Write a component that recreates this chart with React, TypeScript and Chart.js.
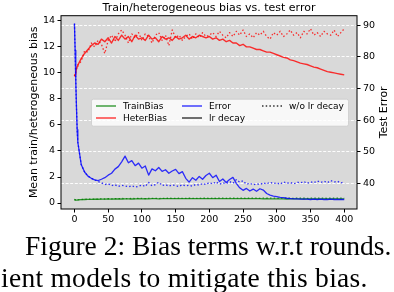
import React, { useEffect, useRef } from "react";
import { Chart, registerables } from "chart.js";

Chart.register(...registerables);

// ---------- data ----------
const rounds = [
  0, 1, 2, 3, 4, 5,
  10, 15, 20, 25, 30, 35, 40, 45,
  50, 55, 60, 65, 70, 75, 80, 85,
  90, 95, 100, 105, 110, 115, 120, 125,
  130, 135, 140, 145, 150, 155, 160, 165,
  170, 175, 180, 185, 190, 195, 200, 205,
  210, 215, 220, 225, 230, 235, 240, 245,
  250, 255, 260, 265, 270, 275, 280, 285,
  290, 295, 300, 305, 310, 315, 320, 325,
  330, 335, 340, 345, 350, 355, 360, 365,
  370, 375, 380, 385, 390, 395, 400,
];

const errorDecay = [
  90.5, 82, 72, 64, 57, 53,
  46, 43.6, 42.3, 41.6, 41.1, 40.9, 41.3, 41.8,
  42.6, 43.2, 44.5, 45.3, 46.8, 48.6, 46.5, 47.2,
  45.6, 46.4, 44.8, 45.5, 42.6, 44.6, 44.0, 45.0,
  43.8, 44.3, 43.2, 43.9, 44.4, 43.1, 43.7, 41.6,
  40.4, 41.8, 41.0, 42.2, 41.3, 42.5, 43.2, 41.8,
  42.6, 40.6, 41.4, 40.3, 41.2, 41.9, 40.0, 38.6,
  37.8, 38.4, 37.6, 38.2, 37.5, 38.3, 37.9, 36.8,
  36.3, 36.0, 35.8, 35.6, 35.5, 35.3, 35.2, 35.1,
  35.1, 35.0, 35.0, 35.0, 34.9, 35.0, 34.9, 35.0,
  34.9, 34.9, 35.0, 34.9, 34.9, 34.9, 34.9,
];

const errorNoDecay = [
  90.5, 82, 72, 64, 57, 53,
  46, 43.6, 42.3, 41.6, 41.1, 40.6, 40.2, 39.6,
  39.9, 39.3, 39.6, 39.0, 39.4, 39.2, 38.9, 39.3,
  38.8, 39.1, 39.5, 39.0, 40.3, 39.2, 39.6, 40.4,
  39.3, 39.6, 39.1, 39.5, 39.3, 39.0, 39.6, 39.2,
  39.4, 39.1, 39.7, 39.4, 40.0, 39.6, 40.3, 39.8,
  40.5, 39.7, 40.2, 39.9, 40.6, 40.0, 41.2, 40.4,
  40.8, 39.7, 40.1, 39.5, 39.9, 39.6, 40.2, 39.8,
  40.4, 39.9, 40.2, 39.7, 40.5, 40.0, 40.3, 39.8,
  40.4, 40.1, 40.6, 40.0, 40.5, 40.2, 40.8, 40.3,
  40.7, 40.2, 40.9, 40.4, 40.7, 40.1, 40.5,
];

const heterDecay = [
  9.75, 9.9, 10.1, 10.3, 10.5, 10.6,
  11.1, 11.5, 11.8, 12.1, 12.3, 12.2, 12.6, 12.4,
  12.7, 12.3, 12.8, 12.5, 12.9, 12.6, 12.8, 12.4,
  12.9, 12.6, 12.7, 12.5, 12.9, 12.6, 12.7, 12.4,
  12.8, 12.6, 12.7, 12.5, 12.8, 12.6, 12.7, 12.9,
  12.6, 12.8, 12.7, 12.9, 12.8, 12.7, 12.8, 12.6,
  12.7, 12.5, 12.6, 12.4, 12.5, 12.3, 12.3, 12.1,
  12.2, 12.0, 12.0, 11.9, 11.8, 11.8, 11.7, 11.6,
  11.6, 11.5, 11.4, 11.3, 11.2, 11.15, 11.0, 10.95,
  10.85, 10.75, 10.7, 10.65, 10.55, 10.45, 10.4, 10.3,
  10.2, 10.1, 10.05, 10.0, 9.95, 9.9, 9.85,
];

const heterNoDecay = [
  9.75, 9.9, 10.1, 10.3, 10.5, 10.6,
  10.9, 11.7, 11.6, 12.3, 12.0, 12.5, 12.2, 11.5,
  12.5, 12.9, 12.4, 13.0, 13.3, 12.9, 12.3, 13.0,
  12.7, 13.1, 12.5, 13.0, 12.8, 12.3, 12.9, 13.1,
  12.5, 12.9, 12.1, 13.3, 12.7, 12.9, 12.5, 12.8,
  13.0, 12.6, 13.0, 12.7, 13.1, 12.8, 12.9, 13.1,
  12.8, 13.2, 12.9, 12.7, 13.1, 12.8, 13.2, 12.9,
  13.3, 12.8, 13.0, 12.7, 13.1, 12.9, 13.2, 12.8,
  12.6, 13.1, 12.9, 13.2, 12.8, 13.0, 13.3, 12.9,
  13.1, 12.7, 13.2, 13.0, 13.4, 12.9, 13.1, 12.8,
  13.2, 13.0, 12.9, 13.3, 12.8, 13.1, 13.4,
];

const trainDecay = [
  0.28, 0.24, 0.22, 0.22, 0.23, 0.24,
  0.26, 0.27, 0.28, 0.28, 0.29, 0.29, 0.30, 0.30,
  0.31, 0.30, 0.31, 0.32, 0.31, 0.32, 0.32, 0.31,
  0.32, 0.33, 0.32, 0.33, 0.32, 0.33, 0.33, 0.32,
  0.33, 0.33, 0.34, 0.33, 0.33, 0.34, 0.33, 0.34,
  0.34, 0.33, 0.34, 0.34, 0.34, 0.33, 0.34, 0.34,
  0.34, 0.34, 0.33, 0.34, 0.34, 0.34, 0.33, 0.34,
  0.33, 0.34, 0.33, 0.33, 0.33, 0.33, 0.32, 0.33,
  0.32, 0.32, 0.32, 0.32, 0.32, 0.31, 0.32, 0.32,
  0.32, 0.32, 0.31, 0.32, 0.32, 0.32, 0.31, 0.32,
  0.32, 0.32, 0.31, 0.32, 0.32, 0.31, 0.32,
];

const trainNoDecay = [
  0.28, 0.24, 0.22, 0.22, 0.23, 0.24,
  0.27, 0.28, 0.30, 0.29, 0.31, 0.30, 0.32, 0.31,
  0.33, 0.32, 0.34, 0.33, 0.35, 0.34, 0.33, 0.35,
  0.34, 0.36, 0.35, 0.34, 0.36, 0.35, 0.36, 0.34,
  0.36, 0.35, 0.37, 0.36, 0.35, 0.37, 0.36, 0.35,
  0.37, 0.36, 0.35, 0.37, 0.36, 0.38, 0.36, 0.37,
  0.36, 0.38, 0.37, 0.36, 0.38, 0.37, 0.36, 0.38,
  0.37, 0.36, 0.38, 0.37, 0.38, 0.36, 0.37, 0.38,
  0.37, 0.38, 0.36, 0.38, 0.37, 0.38, 0.37, 0.36,
  0.38, 0.37, 0.38, 0.36, 0.37, 0.38, 0.37, 0.38,
  0.37, 0.36, 0.38, 0.37, 0.38, 0.37, 0.38,
];

const xTicks = [0, 50, 100, 150, 200, 250, 300, 350, 400];
const leftTicks = [0, 2, 4, 6, 8, 10, 12, 14];
const rightTicks = [40, 50, 60, 70, 80, 90];

const titleText = "Train/heterogeneous bias vs. test error";
const leftAxisTitle = "Mean train/heterogeneous bias";
const rightAxisTitle = "Test Error";
const legendLabels = ["TrainBias", "HeterBias", "Error", "lr decay", "w/o lr decay"];
const captionLine1 = "Figure 2: Bias terms w.r.t rounds.";
const captionLine2 = "ient models to mitigate this bias.";

// ---------- styles ----------
const GREEN = "rgba(0,128,0,0.8)";
const RED = "rgba(255,0,0,0.8)";
const BLUE = "rgba(0,0,255,0.8)";
const BLACK = "rgba(0,0,0,0.8)";
const DOT = [1.5, 2.2];
const FONT = "'DejaVu Sans', sans-serif";

const pts = (vals: number[]) => rounds.map((r, i) => ({ x: r, y: vals[i] }));

export default function App() {
  const ref = useRef<HTMLCanvasElement>(null);

  useEffect(() => {
    const canvas = ref.current;
    if (!canvas) return;

    const bgPlugin = {
      id: "plotBg",
      beforeDraw(chart: any) {
        const { ctx, chartArea: a } = chart;
        ctx.save();
        ctx.fillStyle = "#d9d9d9";
        ctx.fillRect(a.left, a.top, a.right - a.left, a.bottom - a.top);
        ctx.restore();
      },
    };

    const legendPlugin = {
      id: "boxLegend",
      afterDatasetsDraw(chart: any) {
        const { ctx, chartArea: a } = chart;
        const bx = a.left + 30.5;
        const by = a.top + 83.5;
        const bw = 257;
        const bh = 27;
        ctx.save();
        ctx.beginPath();
        if ((ctx as any).roundRect) (ctx as any).roundRect(bx, by, bw, bh, 2);
        else ctx.rect(bx, by, bw, bh);
        ctx.fillStyle = "rgba(255,255,255,0.8)";
        ctx.fill();
        ctx.strokeStyle = "rgba(204,204,204,0.8)";
        ctx.lineWidth = 1;
        ctx.stroke();

        const entries = [
          { label: legendLabels[0], color: GREEN, dash: [] as number[], hx: 96, hy: 106 },
          { label: legendLabels[1], color: RED, dash: [] as number[], hx: 96, hy: 118 },
          { label: legendLabels[2], color: BLUE, dash: [] as number[], hx: 182, hy: 106 },
          { label: legendLabels[3], color: BLACK, dash: [] as number[], hx: 182, hy: 118 },
          { label: legendLabels[4], color: BLACK, dash: DOT, hx: 262, hy: 106 },
        ];
        ctx.font = `9px ${FONT}`;
        ctx.textBaseline = "middle";
        ctx.textAlign = "left";
        for (const e of entries) {
          ctx.beginPath();
          ctx.setLineDash(e.dash);
          ctx.strokeStyle = e.color;
          ctx.lineWidth = 1.4;
          ctx.moveTo(e.hx, e.hy);
          ctx.lineTo(e.hx + 20, e.hy);
          ctx.stroke();
          ctx.setLineDash([]);
          ctx.fillStyle = "#000";
          ctx.fillText(e.label, e.hx + 27, e.hy + 0.5);
        }
        ctx.restore();
      },
    };

    const framePlugin = {
      id: "frameAndTitles",
      afterDraw(chart: any) {
        const { ctx, chartArea: a } = chart;
        ctx.save();
        ctx.strokeStyle = "#000";
        ctx.lineWidth = 1;
        ctx.strokeRect(a.left, a.top, a.right - a.left, a.bottom - a.top);

        ctx.fillStyle = "#000";
        ctx.font = `11px ${FONT}`;
        ctx.textAlign = "center";
        ctx.textBaseline = "alphabetic";
        ctx.fillText(titleText, (a.left + a.right) / 2, 10.5);

        const cy = (a.top + a.bottom) / 2;
        ctx.save();
        ctx.translate(36.5, cy);
        ctx.rotate(-Math.PI / 2);
        ctx.fillText(leftAxisTitle, 0, 0);
        ctx.restore();

        ctx.save();
        ctx.translate(386.5, cy);
        ctx.rotate(-Math.PI / 2);
        ctx.fillText(rightAxisTitle, 0, 0);
        ctx.restore();
        ctx.restore();
      },
    };

    const tickFont = { family: FONT, size: 9.5 };

    const chart = new Chart(canvas, {
      type: "line",
      data: {
        datasets: [
          { label: "Error lr decay", data: pts(errorDecay), yAxisID: "yR", borderColor: BLUE, borderWidth: 1.3, pointRadius: 0, order: 0 },
          { label: "Error w/o", data: pts(errorNoDecay), yAxisID: "yR", borderColor: BLUE, borderWidth: 1.3, borderDash: DOT, pointRadius: 0, order: 1 },
          { label: "TrainBias lr decay", data: pts(trainDecay), yAxisID: "yL", borderColor: GREEN, borderWidth: 1.3, pointRadius: 0, order: 2 },
          { label: "TrainBias w/o", data: pts(trainNoDecay), yAxisID: "yL", borderColor: GREEN, borderWidth: 1.3, borderDash: DOT, pointRadius: 0, order: 3 },
          { label: "HeterBias lr decay", data: pts(heterDecay), yAxisID: "yL", borderColor: RED, borderWidth: 1.4, pointRadius: 0, order: 4 },
          { label: "HeterBias w/o", data: pts(heterNoDecay), yAxisID: "yL", borderColor: RED, borderWidth: 1.3, borderDash: DOT, pointRadius: 0, order: 5 },
        ] as any,
      },
      options: {
        animation: false,
        responsive: false,
        maintainAspectRatio: false,
        devicePixelRatio: 1,
        layout: { padding: { top: 15.7, left: 0, right: 0, bottom: 0 } },
        plugins: {
          legend: { display: false },
          title: { display: false },
          tooltip: { enabled: false },
        },
        elements: { line: { tension: 0, borderJoinStyle: "round" } },
        scales: {
          x: {
            type: "linear",
            min: -19.95,
            max: 418.95,
            afterBuildTicks: (s: any) => { s.ticks = xTicks.map((v) => ({ value: v })); },
            afterFit: (s: any) => { s.height = 83; },
            ticks: { font: tickFont, color: "#000", padding: 1, maxRotation: 0, autoSkip: false, callback: (v: any) => String(v) },
            grid: { drawOnChartArea: false, drawTicks: true, tickLength: 3.5, tickColor: "#000", tickWidth: 1 },
            border: { display: false },
          },
          yL: {
            type: "linear",
            position: "left",
            min: -0.46,
            max: 14.4,
            afterBuildTicks: (s: any) => { s.ticks = leftTicks.map((v) => ({ value: v })); },
            afterFit: (s: any) => { s.width = 61; },
            ticks: { font: tickFont, color: "#000", padding: 2.5, autoSkip: false, callback: (v: any) => String(v) },
            grid: { drawOnChartArea: false, drawTicks: true, tickLength: 3.5, tickColor: "#000", tickWidth: 1 },
            border: { display: false },
          },
          yR: {
            type: "linear",
            position: "right",
            min: 31.9,
            max: 93.0,
            afterBuildTicks: (s: any) => { s.ticks = rightTicks.map((v) => ({ value: v })); },
            afterFit: (s: any) => { s.width = 37; },
            ticks: { font: tickFont, color: "#000", padding: 2.5, autoSkip: false, callback: (v: any) => String(v) },
            grid: { drawOnChartArea: true, color: "rgba(255,255,255,0.95)", lineWidth: 1, drawTicks: true, tickLength: 3.5, tickColor: "#000", tickWidth: 1, tickBorderDash: [] },
            border: { display: false, dash: [3, 1.6] },
          },
        },
      } as any,
      plugins: [bgPlugin, legendPlugin, framePlugin],
    });

    return () => chart.destroy();
  }, []);

  const capStyle: React.CSSProperties = {
    position: "absolute",
    fontFamily: "'Liberation Serif', 'Times New Roman', serif",
    fontSize: 27.5,
    lineHeight: "27px",
    color: "#000",
    whiteSpace: "nowrap",
    margin: 0,
  };

  return (
    <div style={{ position: "absolute", left: 0, top: 0, width: 394, height: 292, overflow: "hidden", background: "#fff" }}>
      <canvas ref={ref} width={394} height={292} style={{ position: "absolute", left: 0, top: 0, width: 394, height: 292 }} />
      <div style={{ ...capStyle, left: 25, top: 232 }}>{captionLine1}</div>
      <div style={{ ...capStyle, left: 1, top: 263.5, letterSpacing: "0.27px" }}>{captionLine2}</div>
    </div>
  );
}
